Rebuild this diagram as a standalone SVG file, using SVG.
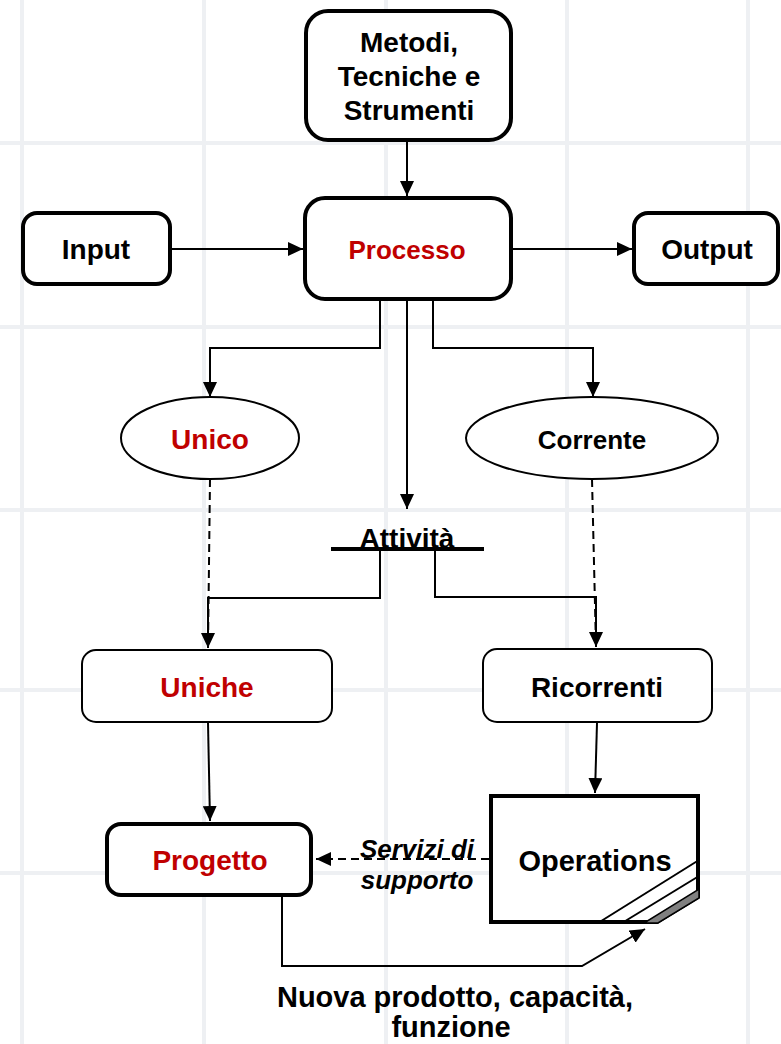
<svg xmlns="http://www.w3.org/2000/svg" width="781" height="1044" viewBox="0 0 781 1044">
<defs>
<style>
.grid{stroke:#eef0f3;stroke-width:4;fill:none}
.thick{fill:#fff;stroke:#000;stroke-width:4}
.thin{fill:#fff;stroke:#000;stroke-width:2}
.t{font-family:"Liberation Sans",Arial,sans-serif;font-weight:bold;text-anchor:middle;fill:#000}
.red{fill:#c00000}
.c{fill:none;stroke:#000;stroke-width:2}
.d{fill:none;stroke:#000;stroke-width:2;stroke-dasharray:8 5}
</style>
<marker id="ah" markerUnits="userSpaceOnUse" markerWidth="15" markerHeight="14" refX="15" refY="7" orient="auto">
<path d="M0,0 L15,7 L0,14 z" fill="#000"/>
</marker>
</defs>
<rect width="781" height="1044" fill="#fff"/>
<g id="grid">
<path class="grid" d="M22,0V1044M204,0V1044M386,0V1044M567,0V1044M748,0V1044M0,143H781M0,327H781M0,510H781M0,690H781M0,873H781"/>
</g>
<g id="connectors">
<path class="c" d="M407,142 L407,196" marker-end="url(#ah)"/>
<path class="c" d="M172,249 L303,249" marker-end="url(#ah)"/>
<path class="c" d="M513,249 L632,249" marker-end="url(#ah)"/>
<path class="c" d="M380,300 L380,348 L210,348 L210,397" marker-end="url(#ah)"/>
<path class="c" d="M433,300 L433,348 L593,348 L593,397" marker-end="url(#ah)"/>
<path class="c" d="M407,300 L407,509" marker-end="url(#ah)"/>
<path class="c" d="M380,549 L380,598 L208,598 L208,648" marker-end="url(#ah)"/>
<path class="c" d="M435,549 L435,597 L596,597 L596,647" marker-end="url(#ah)"/>
<path class="d" d="M210,479 L208,648"/>
<path class="d" d="M592,479 L596,647"/>
<path class="c" d="M208,723 L210,821" marker-end="url(#ah)"/>
<path class="c" d="M597,723 L595,793" marker-end="url(#ah)"/>
<path class="d" d="M489,859 L316,859" marker-end="url(#ah)"/>
<path class="c" d="M282,897 L282,966 L582,966 L645,929" marker-end="url(#ah)"/>
</g>
<g id="metodi">
<rect class="thick" x="306" y="11" width="205" height="129" rx="22"/>
<text class="t" x="409" y="52" font-size="28">Metodi,</text>
<text class="t" x="409" y="86" font-size="28">Tecniche e</text>
<text class="t" x="409" y="120" font-size="28">Strumenti</text>
</g>
<g id="input">
<rect class="thick" x="23" y="213" width="147" height="71" rx="14"/>
<text class="t" x="96" y="259" font-size="28">Input</text>
</g>
<g id="processo">
<rect class="thick" x="305" y="198" width="206" height="101" rx="20"/>
<text class="t red" x="407" y="259" font-size="26">Processo</text>
</g>
<g id="output">
<rect class="thick" x="634" y="213" width="144" height="71" rx="14"/>
<text class="t" x="707" y="259" font-size="28">Output</text>
</g>
<g id="unico">
<ellipse class="thin" cx="210" cy="438" rx="89" ry="41"/>
<text class="t red" x="210" y="449" font-size="28">Unico</text>
</g>
<g id="corrente">
<ellipse class="thin" cx="592" cy="438" rx="126" ry="41"/>
<text class="t" x="592" y="449" font-size="26">Corrente</text>
</g>
<g id="attivita">
<text class="t" x="407" y="548" font-size="28">Attività</text>
<line x1="331" y1="549" x2="484" y2="549" stroke="#000" stroke-width="4"/>
</g>
<g id="uniche">
<rect class="thin" x="82" y="650" width="250" height="72" rx="14"/>
<text class="t red" x="207" y="697" font-size="28">Uniche</text>
</g>
<g id="ricorrenti">
<rect class="thin" x="483" y="649" width="229" height="73" rx="14"/>
<text class="t" x="597" y="697" font-size="28">Ricorrenti</text>
</g>
<g id="progetto">
<rect class="thick" x="107" y="824" width="204" height="71" rx="14"/>
<text class="t red" x="210" y="870" font-size="28">Progetto</text>
</g>
<g id="operations">
<path class="thick" d="M491,796 L698,796 L698,897 L657,922 L491,922 Z"/>
<path d="M644,923 L658,923 L699,898 L699,889 Z" fill="#808080" stroke="#000" stroke-width="1.5"/>
<line x1="598" y1="923" x2="699" y2="860" stroke="#000" stroke-width="2"/>
<line x1="622" y1="923" x2="699" y2="876" stroke="#000" stroke-width="2"/>
<text class="t" x="595" y="871" font-size="29">Operations</text>
</g>
<g id="servizi">
<text class="t" x="417" y="858" font-size="26" font-style="italic">Servizi di</text>
<text class="t" x="417" y="889" font-size="26" font-style="italic">supporto</text>
</g>
<g id="nuova">
<text class="t" x="455" y="1007" font-size="29">Nuova prodotto, capacità,</text>
<text class="t" x="451" y="1037" font-size="29">funzione</text>
</g>
</svg>
